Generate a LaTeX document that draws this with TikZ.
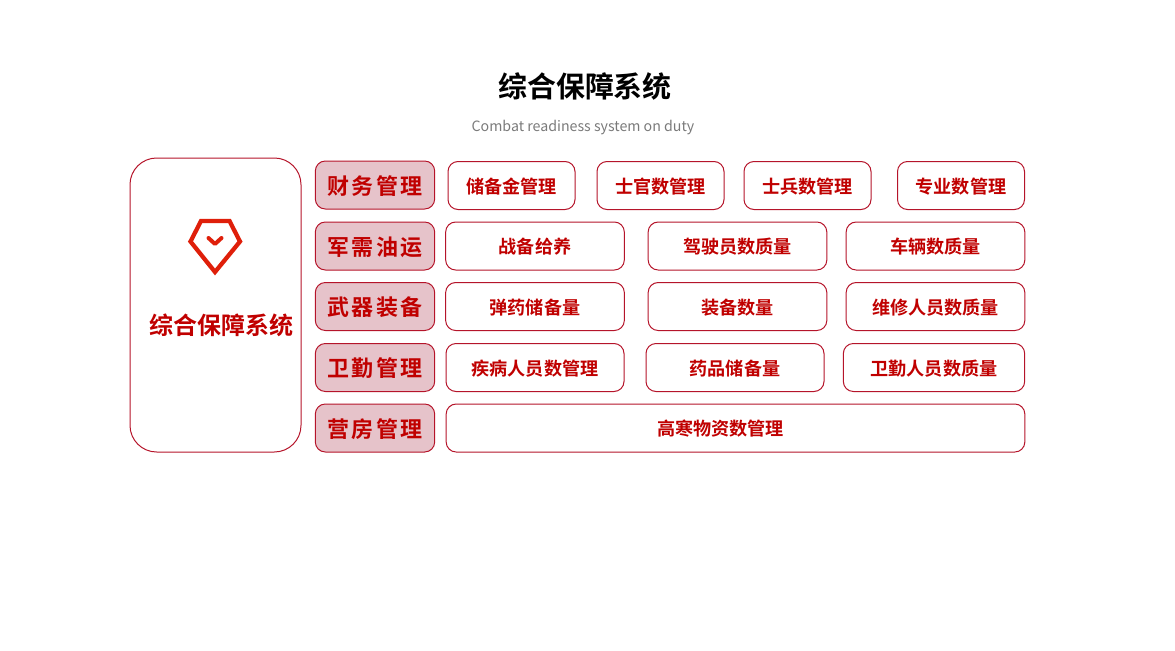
\documentclass[tikz,border=0pt]{standalone}
\usepackage{fontspec}
\setmainfont{Noto Sans CJK SC}
\newfontfamily\cjkbold[BoldFont=*]{Noto Sans CJK SC Bold}
\newfontfamily\cjkhead[LetterSpace=12]{Noto Sans CJK SC Bold}
\definecolor{boxred}{HTML}{B5142A}
\definecolor{headfill}{HTML}{E6C3CA}
\definecolor{textred}{HTML}{C00000}
\definecolor{iconred}{HTML}{DF1F0A}
\tikzset{
  head/.style={draw=boxred,fill=headfill,rounded corners=7.5pt,line width=.75pt,
    minimum width=89.5pt,minimum height=36pt,inner sep=0pt,text=textred,
    text height=15.3pt,text depth=1.3pt,
    font=\cjkhead\fontsize{16.5pt}{18pt}\selectfont},
  cell/.style={draw=boxred,fill=white,rounded corners=7.5pt,line width=.75pt,
    minimum height=36pt,inner sep=0pt,text=textred,
    text height=13pt,text depth=1.1pt,
    font=\cjkbold\fontsize{13.6pt}{16pt}\selectfont},
}
\begin{document}
\begin{tikzpicture}[x=.75pt,y=-.75pt]
  \useasboundingbox (0,0) rectangle (1175,650);

  \node[font=\cjkbold\fontsize{21.7pt}{26pt}\selectfont] (title) at (585,86) {综合保障系统};
  \node[font=\fontsize{10.65pt}{14pt}\selectfont,text=black!52] (subtitle) at (583,128) {Combat readiness system on duty};

  % left panel
  \node[draw=boxred,rounded corners=20pt,line width=.75pt,minimum width=128.25pt,
    minimum height=220.5pt] (panel) at (215.5,305) {};
  \node[text=textred,font=\cjkbold\fontsize{18pt}{22pt}\selectfont] (paneltext) at (221.5,325) {综合保障系统};
  \draw[iconred,line width=3.2pt,line join=miter]
    (201,221) -- (229.5,221) -- (240,241.5) -- (215,272) -- (190.5,241.5) -- cycle;
  \draw[iconred,line width=3pt,line cap=round,line join=round]
    (208.5,238) -- (215,244) -- (221.5,238);

  % row heads
  \node[head] (h1) at (375,185)   {财务管理};
  \node[head] (h2) at (375,246)   {军需油运};
  \node[head] (h3) at (375,306.5) {武器装备};
  \node[head] (h4) at (375,367.5) {卫勤管理};
  \node[head] (h5) at (375,428)   {营房管理};

  % first row
  \node[cell,minimum width=95.25pt] (c11) at (511.5,185.5) {储备金管理};
  \node[cell,minimum width=95.25pt] (c12) at (660.5,185.5) {士官数管理};
  \node[cell,minimum width=95.25pt] (c13) at (807.5,185.5) {士兵数管理};
  \node[cell,minimum width=95.25pt] (c14) at (961,185.5) {专业数管理};

  % second row
  \node[cell,minimum width=134pt] (c21) at (535,246) {战备给养};
  \node[cell,minimum width=134pt] (c22) at (737.5,246) {驾驶员数质量};
  \node[cell,minimum width=134pt] (c23) at (935.5,246) {车辆数质量};

  % third row
  \node[cell,minimum width=134pt] (c31) at (535,306.5) {弹药储备量};
  \node[cell,minimum width=134pt] (c32) at (737.5,306.5) {装备数量};
  \node[cell,minimum width=134pt] (c33) at (935.5,306.5) {维修人员数质量};

  % fourth row
  \node[cell,minimum width=133.5pt] (c41) at (535,367.5) {疾病人员数管理};
  \node[cell,minimum width=133.5pt] (c42) at (735,367.5) {药品储备量};
  \node[cell,minimum width=136pt] (c43) at (934,367.5) {卫勤人员数质量};

  % last row
  \node[cell,minimum width=434pt] (c51) at (735.5,428) {\hspace*{-22.5pt}高寒物资数管理};
\end{tikzpicture}
\end{document}
